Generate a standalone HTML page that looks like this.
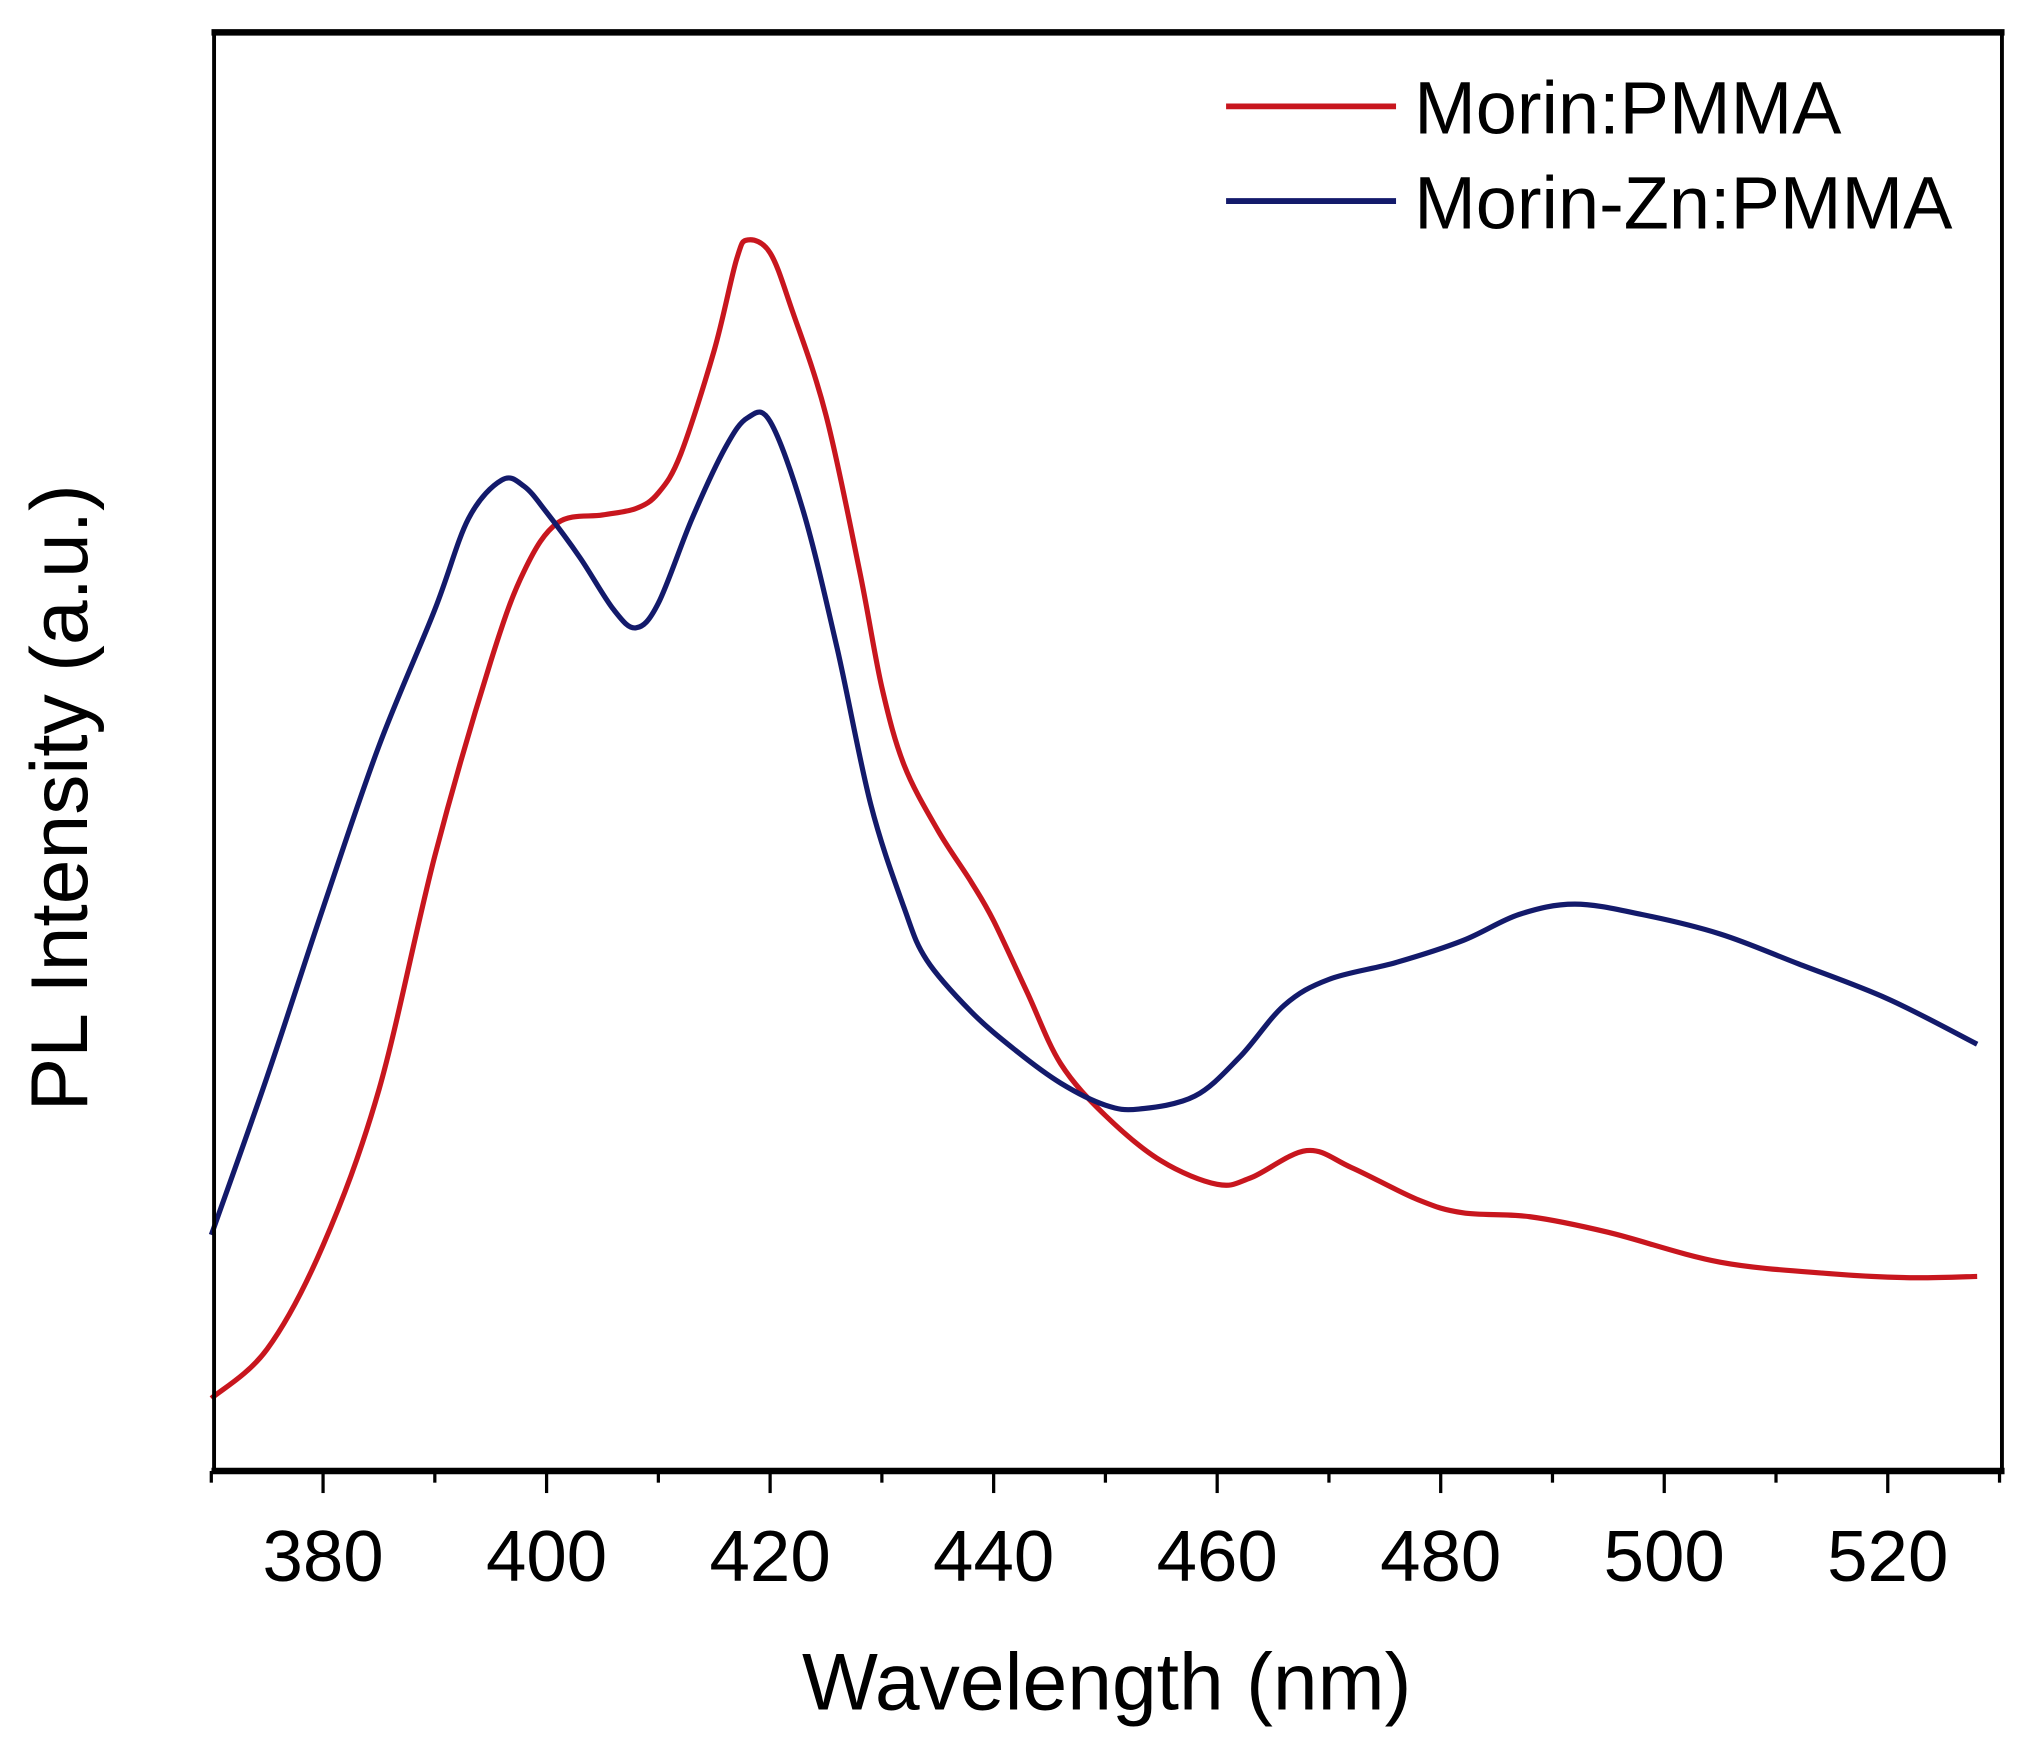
<!DOCTYPE html>
<html><head><meta charset="utf-8"><style>
html,body{margin:0;padding:0;background:#fff;}
svg{display:block;font-family:"Liberation Sans",Arial,sans-serif;}
</style></head><body>
<svg id="chart" width="2024" height="1746" viewBox="0 0 1560 1346" preserveAspectRatio="none" xmlns="http://www.w3.org/2000/svg">
<g id="marks"></g>
<g id="axes"></g>
<text x="853" y="1318" font-size="62" text-anchor="middle">Wavelength (nm)</text>
<text transform="translate(67,615) rotate(-90)" font-size="62" text-anchor="middle">PL Intensity (a.u.)</text>
<g>
<line x1="945" y1="82" x2="1076" y2="82" stroke="#c8161e" stroke-width="4.5"/>
<text x="1090" y="103" font-size="57">Morin:PMMA</text>
<line x1="945" y1="155" x2="1076" y2="155" stroke="#131a6b" stroke-width="4.5"/>
<text x="1090" y="176" font-size="57">Morin-Zn:PMMA</text>
</g>
</svg>
<script>
const redX=[370,375,380,385,390,395,398,401,405,408,410,412,415,417,418,420,422,425,428,430,432,435,438,440,443,446,450,455,460,463,468,472,478,482,488,495,505,515,522,528];
const redY=[5.8,9.6,17.6,29.6,47.6,62.6,69.6,73.3,73.9,74.4,75.6,78.6,86.6,93.6,95.1,94.1,89.6,81.6,69.6,60.6,54.6,49.6,45.6,42.6,37.1,31.6,27.6,24.1,22.3,22.8,24.9,23.6,21.1,20.1,19.8,18.6,16.3,15.4,15.1,15.2];
const blueX=[370,375,380,385,390,393,396,398,400,403,406,408,410,413,416,418,420,423,426,429,432,434,438,442,446,450,453,458,462,466,470,476,482,487,492,498,505,512,520,528];
const blueY=[18.4,30.6,43.6,56.1,66.6,73.6,76.6,76.1,74.1,70.6,66.6,65.2,67.1,73.6,79.1,81.4,81.1,74.1,63.6,51.6,43.6,39.6,35.6,32.6,30.1,28.4,28.1,29.1,32.1,36.1,38.1,39.4,41.1,43.1,43.9,43.1,41.6,39.3,36.6,33.1];
const xTicks=[380,400,420,440,460,480,500,520];
const xMinor=[370,390,410,430,450,470,490,510,530];

const PL=165,PR=1543,PT=25,PB=1134;
function sx(w){return 249+(w-380)*(1455-249)/140;}
function sy(v){return 1136-v*10;}
const NS="http://www.w3.org/2000/svg";
function mk(tag,attrs,parent){const e=document.createElementNS(NS,tag);for(const k in attrs)e.setAttribute(k,attrs[k]);parent.appendChild(e);return e;}
function smooth(xs,ys){
  const p=xs.map((x,i)=>[sx(x),sy(ys[i])]);
  let d="M"+p[0][0].toFixed(1)+","+p[0][1].toFixed(1);
  for(let i=0;i<p.length-1;i++){
    const p0=p[Math.max(0,i-1)],p1=p[i],p2=p[i+1],p3=p[Math.min(p.length-1,i+2)];
    const c1=[p1[0]+(p2[0]-p0[0])/6,p1[1]+(p2[1]-p0[1])/6];
    const c2=[p2[0]-(p3[0]-p1[0])/6,p2[1]-(p3[1]-p1[1])/6];
    d+="C"+c1[0].toFixed(1)+","+c1[1].toFixed(1)+" "+c2[0].toFixed(1)+","+c2[1].toFixed(1)+" "+p2[0].toFixed(1)+","+p2[1].toFixed(1);
  }
  return d;
}
const marksG=document.getElementById('marks');
const redPath=mk('path',{d:smooth(redX,redY),fill:'none',stroke:'#c8161e','stroke-width':4,'stroke-linejoin':'round'},marksG);


const bluePath=mk('path',{d:smooth(blueX,blueY),fill:'none',stroke:'#131a6b','stroke-width':4,'stroke-linejoin':'round'},marksG);



const axesG=document.getElementById('axes');
const topFrame=mk('line',{x1:PL-2,y1:PT,x2:PR+2,y2:PT,stroke:'#000','stroke-width':5},axesG);


const leftAxis=mk('line',{x1:PL,y1:PT,x2:PL,y2:PB,stroke:'#000','stroke-width':3},axesG);


const rightFrame=mk('line',{x1:PR,y1:PT,x2:PR,y2:PB,stroke:'#000','stroke-width':3},axesG);


const bottomAxis=mk('line',{x1:PL-2,y1:PB,x2:PR+2,y2:PB,stroke:'#000','stroke-width':5},axesG);


xTicks.forEach(t=>{
  const tk=mk('line',{x1:sx(t),y1:PB,x2:sx(t),y2:PB+17,stroke:'#000','stroke-width':2.5},axesG);
  
  
  const lb=mk('text',{x:sx(t),y:1219,'font-size':56,'text-anchor':'middle'},axesG);
  lb.textContent=t;
  
  
});
xMinor.forEach(t=>{
  const tk=mk('line',{x1:sx(t),y1:PB,x2:sx(t),y2:PB+9,stroke:'#000','stroke-width':2.5},axesG);
  
  
});
</script>
</body></html>
